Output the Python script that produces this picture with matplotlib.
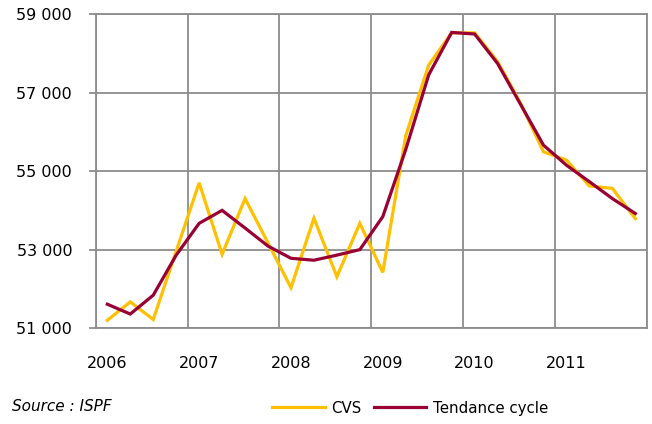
import matplotlib
import matplotlib.pyplot as plt
from matplotlib.ticker import FuncFormatter
matplotlib.use('Agg')

# quarterly values, 2006Q1 .. 2011Q4
years = ['2006', '2007', '2008', '2009', '2010', '2011']
yticks = [51000, 53000, 55000, 57000, 59000]
cvs = [51200, 51670, 51220, 52960, 54700, 52880, 54300, 53170,
       52030, 53800, 52310, 53670, 52420, 55900, 57700, 58520,
       58520, 57790, 56730, 55490, 55280, 54620, 54560, 53790]
tendance = [51610, 51360, 51840, 52860, 53670, 54000, 53550, 53090,
            52780, 52730, 52860, 53000, 53840, 55550, 57450, 58530,
            58490, 57740, 56700, 55660, 55150, 54730, 54300, 53920]

fig = plt.figure(figsize=(6.52, 4.24), dpi=100)
ax = fig.add_axes([0.147, 0.226, 0.845, 0.741])

x = list(range(len(cvs)))
ax.plot(x, cvs, color='#FFC000', lw=2.3, label='CVS', solid_joinstyle='miter')
ax.plot(x, tendance, color='#990033', lw=2.3, label='Tendance cycle', solid_joinstyle='miter')

ax.set_xlim(-0.5, len(cvs) - 0.5)
ax.set_ylim(yticks[0], yticks[-1])
ax.set_yticks(yticks)
ax.yaxis.set_major_formatter(FuncFormatter(lambda v, p: f"{int(v):,}".replace(',', ' ')))
ax.set_xticks(range(0, len(cvs), 4))
ax.set_xticklabels(years)
ax.set_xticks([i - 0.5 for i in range(0, len(cvs) + 1, 4)], minor=True)

ax.grid(which='minor', axis='x', color='#8c8c8c', lw=1.3)
ax.grid(which='major', axis='y', color='#8c8c8c', lw=1.3)
ax.tick_params(axis='x', which='both', length=0, pad=20, labelsize=11.5)
ax.tick_params(axis='y', length=5, width=1.3, color='#8c8c8c', labelsize=11.5, pad=12)
for s in ax.spines.values():
    s.set_color('#8c8c8c')
    s.set_linewidth(1.3)

fig.text(0.018, 0.03, 'Source : ISPF', style='italic', fontsize=11)
fig.legend(loc='lower left', bbox_to_anchor=(0.397, -0.012), ncol=2, frameon=False,
           fontsize=10.8, handlelength=3.5, columnspacing=0.8, handletextpad=0.45)

fig.savefig('out.png', dpi=100)
plt.close('all')
